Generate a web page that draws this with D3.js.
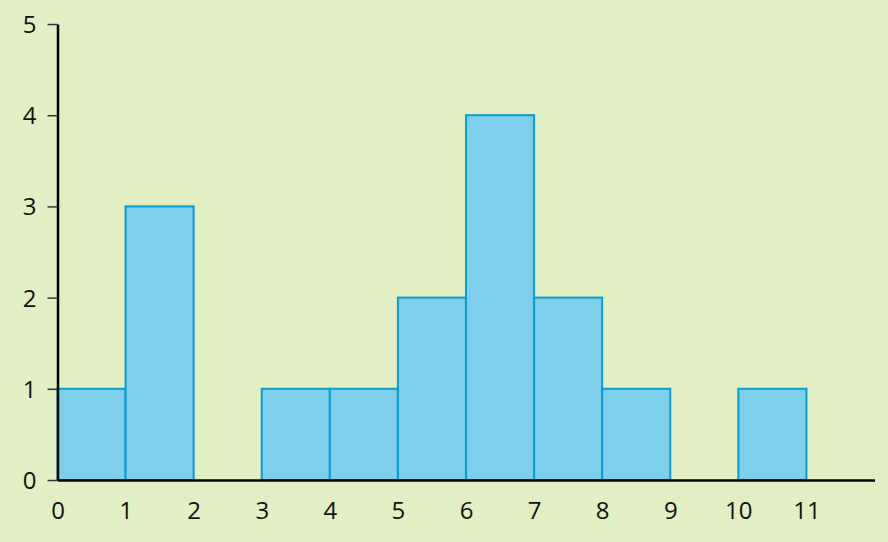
<!DOCTYPE html>
<html><head><meta charset="utf-8">
<script src="https://cdn.jsdelivr.net/npm/d3@7"></script>
<style>html,body{margin:0;padding:0;background:#e1efc3;}svg{display:block;}
.tick text{font-family:'Open Sans',sans-serif;font-size:24px;fill:#111;}</style>
</head><body>
<svg id="c" width="888" height="542"></svg>
<script>
const binStarts = [0,1,2,3,4,5,6,7,8,9,10];
const counts    = [1,3,0,1,1,2,4,2,1,0,1];
const xTicks = [0,1,2,3,4,5,6,7,8,9,10,11];
const yTicks = [0,1,2,3,4,5];

const svg = d3.select("#c");
const x = d3.scaleLinear().domain([0,12]).range([57.5,874.5]);
const y = d3.scaleLinear().domain([0,5]).range([480,24]);

svg.append("rect").attr("width",888).attr("height",542).attr("fill","#e1efc3");

const bins = binStarts.map((s,i)=>({x0:s,x1:s+1,c:counts[i]})).filter(d=>d.c>0);
svg.selectAll("rect.bar").data(bins).enter().append("rect")
  .attr("class","bar")
  .attr("x",d=>x(d.x0)).attr("width",d=>x(d.x1)-x(d.x0))
  .attr("y",d=>y(d.c)).attr("height",d=>y(0)-y(d.c))
  .attr("fill","#7ecfec").attr("stroke","#0a9bd0").attr("stroke-width",2);

// y axis
const ya = svg.append("g").attr("transform",`translate(${x(0)},0)`)
  .call(d3.axisLeft(y).tickValues(yTicks).tickSize(10).tickSizeOuter(0).tickFormat(d3.format("d")));
ya.attr("font-size",null).attr("font-family",null);
ya.select(".domain").attr("stroke","#000").attr("stroke-width",2.5);
ya.selectAll(".tick line").attr("stroke","#333").attr("stroke-width",1.5);
ya.selectAll(".tick text").attr("x",-21).attr("dy","0.35em");

// x axis
const xa = svg.append("g").attr("transform",`translate(0,${y(0)})`)
  .call(d3.axisBottom(x).tickValues(xTicks).tickSize(0).tickSizeOuter(0).tickFormat(d3.format("d")));
xa.attr("font-size",null).attr("font-family",null);
xa.select(".domain").attr("stroke","#000").attr("stroke-width",2.5);
xa.selectAll(".tick text").attr("y",22).attr("dy","0.71em");
</script>
</body></html>
